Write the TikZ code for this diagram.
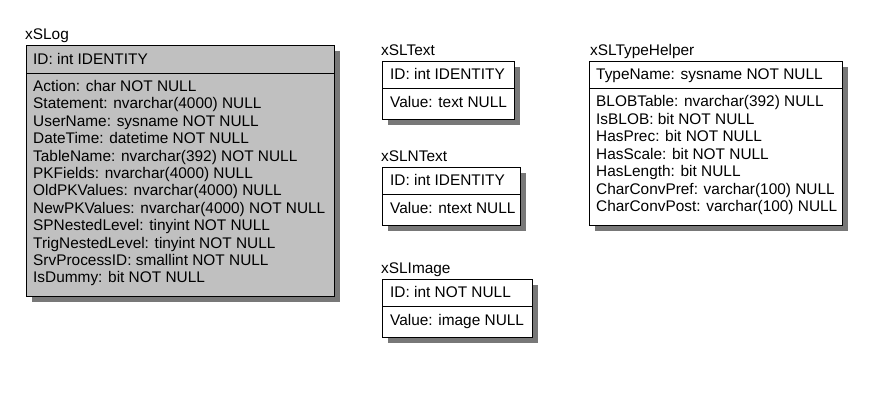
\documentclass[tikz,border=0pt]{standalone}
\usepackage{fontspec}
\setmainfont{Liberation Sans}
\usetikzlibrary{shadows}
\definecolor{loggray}{RGB}{192,192,192}
\definecolor{shadowgray}{RGB}{120,120,120}
\begin{document}
\begin{tikzpicture}[x=1pt,y=1pt,
  tbl/.style={draw=black, line width=1pt, anchor=north west, inner sep=0pt,
    drop shadow={shadow xshift=5pt, shadow yshift=-5pt, opacity=1, fill=shadowgray}},
  txt/.style={anchor=base west, inner sep=0pt, font=\fontsize{15.4}{17}\selectfont},
  sep/.style={draw=black, line width=1pt}]
\useasboundingbox (0,0) rectangle (886,-407);
\fill[white] (0,0) rectangle (886,-407);

% ---------- xSLog ----------
\node[txt] (logtitle) at (25,-39) {xSLog};
\node[tbl, fill=loggray, minimum width=308pt, minimum height=251pt] (logbox) at (26,-45) {};
\draw[sep] (logbox.west |- 0,-73) -- (logbox.east |- 0,-73);
\node[txt] (logid) at (33,-64.5) {ID: int IDENTITY};
\node[txt] (log1) at (33,-91.5) {Action: char NOT NULL};
\node[txt] (log2) at (33,-108.9) {Statement: nvarchar(4000) NULL};
\node[txt] (log3) at (33,-126.3) {UserName: sysname NOT NULL};
\node[txt] (log4) at (33,-143.7) {DateTime: datetime NOT NULL};
\node[txt] (log5) at (33,-161.1) {TableName: nvarchar(392) NOT NULL};
\node[txt] (log6) at (33,-178.5) {PKFields: nvarchar(4000) NULL};
\node[txt] (log7) at (33,-195.9) {OldPKValues: nvarchar(4000) NULL};
\node[txt] (log8) at (33,-213.3) {NewPKValues: nvarchar(4000) NOT NULL};
\node[txt] (log9) at (33,-230.7) {SPNestedLevel: tinyint NOT NULL};
\node[txt] (log10) at (33,-248.1) {TrigNestedLevel: tinyint NOT NULL};
\node[txt] (log11) at (33,-265.5) {SrvProcessID: smallint NOT NULL};
\node[txt] (log12) at (33,-282.9) {IsDummy: bit NOT NULL};

% ---------- xSLText ----------
\node[txt] (texttitle) at (381,-55) {xSLText};
\node[tbl, fill=white, minimum width=132pt, minimum height=58pt] (textbox) at (382,-61) {};
\draw[sep] (textbox.west |- 0,-88) -- (textbox.east |- 0,-88);
\node[txt] (textid) at (390,-79.5) {ID: int IDENTITY};
\node[txt] (textval) at (390,-107.5) {Value: text NULL};

% ---------- xSLNText ----------
\node[txt] (ntexttitle) at (381,-161) {xSLNText};
\node[tbl, fill=white, minimum width=138pt, minimum height=58pt] (ntextbox) at (382,-167) {};
\draw[sep] (ntextbox.west |- 0,-194) -- (ntextbox.east |- 0,-194);
\node[txt] (ntextid) at (390,-185.5) {ID: int IDENTITY};
\node[txt] (ntextval) at (390,-213.5) {Value: ntext NULL};

% ---------- xSLImage ----------
\node[txt] (imgtitle) at (381,-273) {xSLImage};
\node[tbl, fill=white, minimum width=150pt, minimum height=58pt] (imgbox) at (382,-279) {};
\draw[sep] (imgbox.west |- 0,-306) -- (imgbox.east |- 0,-306);
\node[txt] (imgid) at (390,-297.5) {ID: int NOT NULL};
\node[txt] (imgval) at (390,-325.5) {Value: image NULL};

% ---------- xSLTypeHelper ----------
\node[txt] (thtitle) at (590,-55) {xSLTypeHelper};
\node[tbl, fill=white, minimum width=253pt, minimum height=164pt] (thbox) at (589,-61) {};
\draw[sep] (thbox.west |- 0,-88) -- (thbox.east |- 0,-88);
\node[txt] (thid) at (596,-79.5) {TypeName: sysname NOT NULL};
\node[txt] (th1) at (596,-106.5) {BLOBTable: nvarchar(392) NULL};
\node[txt] (th2) at (596,-124) {IsBLOB: bit NOT NULL};
\node[txt] (th3) at (596,-141.5) {HasPrec: bit NOT NULL};
\node[txt] (th4) at (596,-159) {HasScale: bit NOT NULL};
\node[txt] (th5) at (596,-176.5) {HasLength: bit NULL};
\node[txt] (th6) at (596,-194) {CharConvPref: varchar(100) NULL};
\node[txt] (th7) at (596,-211.5) {CharConvPost: varchar(100) NULL};
\end{tikzpicture}
\end{document}
